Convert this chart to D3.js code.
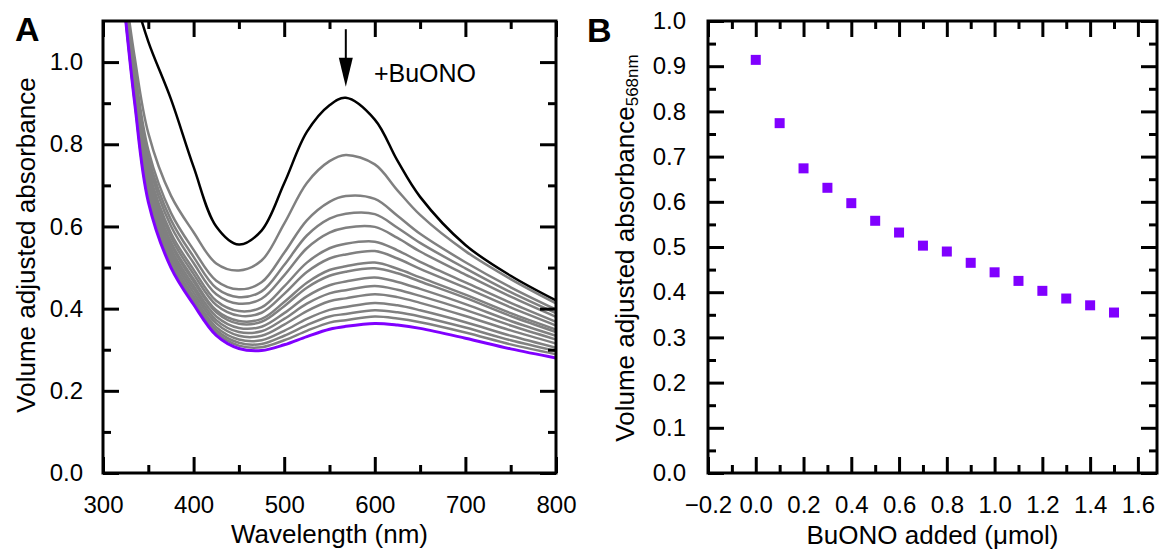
<!DOCTYPE html>
<meta charset="utf-8">
<style>
    body { margin: 0; background: #fff; }
    svg { display: block; font-family: "Liberation Sans", Arial, sans-serif; }
</style>
<body>
<script src="https://d3js.org/d3.v7.min.js"></script>
<script>
    // ---- panel A: spectra (volume adjusted absorbance vs wavelength) ----
    var wavelengths = [322, 335, 350, 375, 400, 425, 450, 475, 500, 525, 550, 568, 600, 625, 650, 700, 750, 800];

    var startSpectrum = [1.28, 1.16, 1.05, 0.91, 0.745, 0.60, 0.556, 0.59, 0.705, 0.83, 0.895, 0.913, 0.86, 0.76, 0.672, 0.555, 0.48, 0.42];
    var endSpectrum   = [1.17, 0.90, 0.66, 0.50, 0.41, 0.335, 0.303, 0.298, 0.312, 0.332, 0.35, 0.357, 0.364, 0.36, 0.352, 0.328, 0.302, 0.28];

    var titration1  = [1.217, 1.011, 0.827, 0.675, 0.586, 0.510, 0.493, 0.517, 0.607, 0.706, 0.759, 0.774, 0.751, 0.688, 0.628, 0.540, 0.472, 0.413];
    var titration2  = [1.206, 0.984, 0.786, 0.633, 0.543, 0.468, 0.447, 0.464, 0.536, 0.615, 0.660, 0.674, 0.667, 0.626, 0.582, 0.513, 0.452, 0.398];
    var titration3  = [1.201, 0.973, 0.770, 0.616, 0.526, 0.450, 0.428, 0.442, 0.506, 0.578, 0.619, 0.631, 0.630, 0.597, 0.560, 0.498, 0.440, 0.389];
    var titration4  = [1.197, 0.964, 0.756, 0.601, 0.511, 0.435, 0.412, 0.424, 0.481, 0.547, 0.585, 0.597, 0.599, 0.572, 0.539, 0.483, 0.429, 0.380];
    var titration5  = [1.193, 0.954, 0.740, 0.584, 0.495, 0.419, 0.394, 0.403, 0.454, 0.512, 0.547, 0.558, 0.563, 0.542, 0.514, 0.464, 0.414, 0.368];
    var titration6  = [1.190, 0.947, 0.730, 0.574, 0.484, 0.409, 0.383, 0.390, 0.436, 0.489, 0.522, 0.532, 0.540, 0.522, 0.497, 0.451, 0.403, 0.359];
    var titration7  = [1.187, 0.939, 0.719, 0.562, 0.472, 0.396, 0.370, 0.375, 0.416, 0.463, 0.494, 0.503, 0.512, 0.497, 0.476, 0.434, 0.389, 0.349];
    var titration8  = [1.185, 0.935, 0.713, 0.556, 0.466, 0.391, 0.363, 0.368, 0.406, 0.451, 0.480, 0.490, 0.498, 0.486, 0.466, 0.426, 0.382, 0.343];
    var titration9  = [1.182, 0.929, 0.704, 0.546, 0.456, 0.381, 0.353, 0.356, 0.389, 0.430, 0.457, 0.466, 0.476, 0.465, 0.448, 0.411, 0.370, 0.334];
    var titration10 = [1.180, 0.924, 0.695, 0.537, 0.448, 0.372, 0.343, 0.345, 0.375, 0.412, 0.437, 0.445, 0.455, 0.446, 0.431, 0.397, 0.359, 0.325];
    var titration11 = [1.178, 0.918, 0.688, 0.529, 0.439, 0.364, 0.334, 0.334, 0.361, 0.394, 0.418, 0.425, 0.435, 0.428, 0.414, 0.382, 0.347, 0.315];
    var titration12 = [1.175, 0.913, 0.679, 0.520, 0.430, 0.355, 0.325, 0.323, 0.346, 0.375, 0.397, 0.404, 0.414, 0.408, 0.396, 0.367, 0.334, 0.305];
    var titration13 = [1.174, 0.908, 0.672, 0.513, 0.423, 0.348, 0.317, 0.314, 0.334, 0.360, 0.381, 0.387, 0.396, 0.391, 0.381, 0.354, 0.323, 0.297];
    var titration14 = [1.172, 0.904, 0.667, 0.507, 0.417, 0.342, 0.310, 0.306, 0.323, 0.346, 0.366, 0.372, 0.381, 0.376, 0.367, 0.342, 0.313, 0.289];

    var grayCurves = [titration1, titration2, titration3, titration4, titration5, titration6, titration7,
                      titration8, titration9, titration10, titration11, titration12, titration13, titration14];

    var aXTicks = [300, 400, 500, 600, 700, 800];
    var aXMinor = [350, 450, 550, 650, 750];
    var aYTicks = [0, 0.2, 0.4, 0.6, 0.8, 1.0];
    var aYMinor = [0.1, 0.3, 0.5, 0.7, 0.9];

    // arrow marks the 568 nm band
    var arrowNm = 568, arrowTop = 1.08, arrowTip = 0.94;

    // ---- panel B: absorbance at 568 nm vs BuONO added ----
    var buonoAdded = [0.0, 0.1, 0.2, 0.3, 0.4, 0.5, 0.6, 0.7, 0.8, 0.9, 1.0, 1.1, 1.2, 1.3, 1.4, 1.5];
    var abs568     = [0.914, 0.774, 0.674, 0.631, 0.597, 0.558, 0.532, 0.503, 0.490, 0.465, 0.444, 0.425, 0.403, 0.386, 0.371, 0.355];

    var bXTicks = [-0.2, 0.0, 0.2, 0.4, 0.6, 0.8, 1.0, 1.2, 1.4, 1.6];
    var bXMinor = [-0.1, 0.1, 0.3, 0.5, 0.7, 0.9, 1.1, 1.3, 1.5];
    var bYTicks = [0, 0.1, 0.2, 0.3, 0.4, 0.5, 0.6, 0.7, 0.8, 0.9, 1.0];
    var bYMinor = [0.05, 0.15, 0.25, 0.35, 0.45, 0.55, 0.65, 0.75, 0.85, 0.95];

    var purple = "#8000ff";

    var svg = d3.select("body").append("svg")
        .attr("width", 1161)
        .attr("height", 552);

    var fmt1 = d3.format(".1f"),
        fmt0 = d3.format("d");

    function styleAxis(g) {
        g.select(".domain").remove();
        g.selectAll("line").attr("stroke", "#000").attr("stroke-width", 3);
        g.selectAll("text").attr("font-size", 24).attr("fill", "#000")
            .attr("font-family", "'Liberation Sans', Arial, sans-serif");
    }

    // boxed frame with inward ticks on all four sides
    function frame(g, w, h, xs, ys, xMaj, xMin, yMaj, yMin, xFmt, yFmt, yPad) {
        g.append("g").attr("transform", "translate(0," + h + ")")
            .call(d3.axisBottom(xs).tickValues(xMaj).tickSize(-16).tickPadding(23).tickFormat(xFmt))
            .call(styleAxis);
        g.append("g").attr("transform", "translate(0," + h + ")")
            .call(d3.axisBottom(xs).tickValues(xMin).tickSize(-8).tickFormat(""))
            .call(styleAxis);
        g.append("g")
            .call(d3.axisTop(xs).tickValues(xMaj).tickSize(-16).tickFormat(""))
            .call(styleAxis);
        g.append("g")
            .call(d3.axisTop(xs).tickValues(xMin).tickSize(-8).tickFormat(""))
            .call(styleAxis);
        g.append("g")
            .call(d3.axisLeft(ys).tickValues(yMaj).tickSize(-16).tickPadding(yPad).tickFormat(yFmt))
            .call(styleAxis);
        g.append("g")
            .call(d3.axisLeft(ys).tickValues(yMin).tickSize(-8).tickFormat(""))
            .call(styleAxis);
        g.append("g").attr("transform", "translate(" + w + ",0)")
            .call(d3.axisRight(ys).tickValues(yMaj).tickSize(-16).tickFormat(""))
            .call(styleAxis);
        g.append("g").attr("transform", "translate(" + w + ",0)")
            .call(d3.axisRight(ys).tickValues(yMin).tickSize(-8).tickFormat(""))
            .call(styleAxis);
        g.append("rect")
            .attr("width", w).attr("height", h)
            .attr("fill", "none").attr("stroke", "#000").attr("stroke-width", 3);
    }

    // ================= panel A =================
    var aLeft = 103, aTop = 21, aW = 453, aH = 452;
    var gA = svg.append("g").attr("transform", "translate(" + aLeft + "," + aTop + ")");

    var xA = d3.scaleLinear().domain([300, 800]).range([0, aW]);
    var yA = d3.scaleLinear().domain([0, 1.1]).range([aH, 0]);

    svg.append("clipPath").attr("id", "clipA")
        .append("rect").attr("width", aW).attr("height", aH);

    var line = d3.line()
        .x(function(d, i) { return xA(wavelengths[i]); })
        .y(function(d) { return yA(d); })
        .curve(d3.curveCatmullRom.alpha(0.5));

    var curves = gA.append("g").attr("clip-path", "url(#clipA)")
        .attr("fill", "none").attr("stroke-linejoin", "round");

    curves.selectAll("path.gray")
        .data(grayCurves)
        .enter().append("path")
        .attr("class", "gray")
        .attr("d", line)
        .attr("stroke", "#808080")
        .attr("stroke-width", 2.5);

    curves.append("path")
        .attr("d", line(endSpectrum))
        .attr("stroke", purple)
        .attr("stroke-width", 3);

    curves.append("path")
        .attr("d", line(startSpectrum))
        .attr("stroke", "#000")
        .attr("stroke-width", 2.5);

    frame(gA, aW, aH, xA, yA, aXTicks, aXMinor, aYTicks, aYMinor, fmt0, fmt1, 20);

    // arrow + label
    var ax = xA(arrowNm);
    gA.append("line")
        .attr("x1", ax).attr("x2", ax)
        .attr("y1", yA(arrowTop)).attr("y2", yA(arrowTip) - 20)
        .attr("stroke", "#000").attr("stroke-width", 2);
    gA.append("path")
        .attr("d", "M" + (ax - 7) + "," + (yA(arrowTip) - 29) +
                   "L" + (ax + 7) + "," + (yA(arrowTip) - 29) +
                   "L" + ax + "," + yA(arrowTip) + "Z")
        .attr("fill", "#000");
    gA.append("text")
        .attr("x", xA(599)).attr("y", yA(0.951))
        .attr("font-size", 25)
        .text("+BuONO");

    gA.append("text")
        .attr("x", aW / 2).attr("y", 543 - aTop)
        .attr("text-anchor", "middle")
        .attr("font-size", 26)
        .text("Wavelength (nm)");

    svg.append("text")
        .attr("transform", "translate(35," + (aTop + aH / 2 - 2) + ") rotate(-90)")
        .attr("text-anchor", "middle")
        .attr("font-size", 26)
        .text("Volume adjusted absorbance");

    svg.append("text")
        .attr("x", 15).attr("y", 41)
        .attr("font-size", 34).attr("font-weight", "bold")
        .text("A");

    // ================= panel B =================
    var bLeft = 708, bTop = 21, bW = 449, bH = 452;
    var gB = svg.append("g").attr("transform", "translate(" + bLeft + "," + bTop + ")");

    var xB = d3.scaleLinear().domain([-0.2, 1.68]).range([0, bW]);
    var yB = d3.scaleLinear().domain([0, 1.0]).range([bH, 0]);

    frame(gB, bW, bH, xB, yB, bXTicks, bXMinor, bYTicks, bYMinor, fmt1, fmt1, 22);

    var sq = 10;
    gB.selectAll("rect.pt")
        .data(buonoAdded)
        .enter().append("rect")
        .attr("class", "pt")
        .attr("x", function(d) { return xB(d) - sq / 2; })
        .attr("y", function(d, i) { return yB(abs568[i]) - sq / 2; })
        .attr("width", sq).attr("height", sq)
        .attr("fill", purple);

    gB.append("text")
        .attr("x", bW / 2).attr("y", 544 - bTop)
        .attr("text-anchor", "middle")
        .attr("font-size", 26)
        .text("BuONO added (μmol)");

    var yt = svg.append("text")
        .attr("transform", "translate(634," + (bTop + bH / 2 + 1) + ") rotate(-90)")
        .attr("text-anchor", "middle")
        .attr("font-size", 26);
    yt.append("tspan").text("Volume adjusted absorbance");
    yt.append("tspan").attr("font-size", 17).attr("dy", 4).text("568nm");

    svg.append("text")
        .attr("x", 587).attr("y", 42)
        .attr("font-size", 34).attr("font-weight", "bold")
        .text("B");
</script>
</body>
